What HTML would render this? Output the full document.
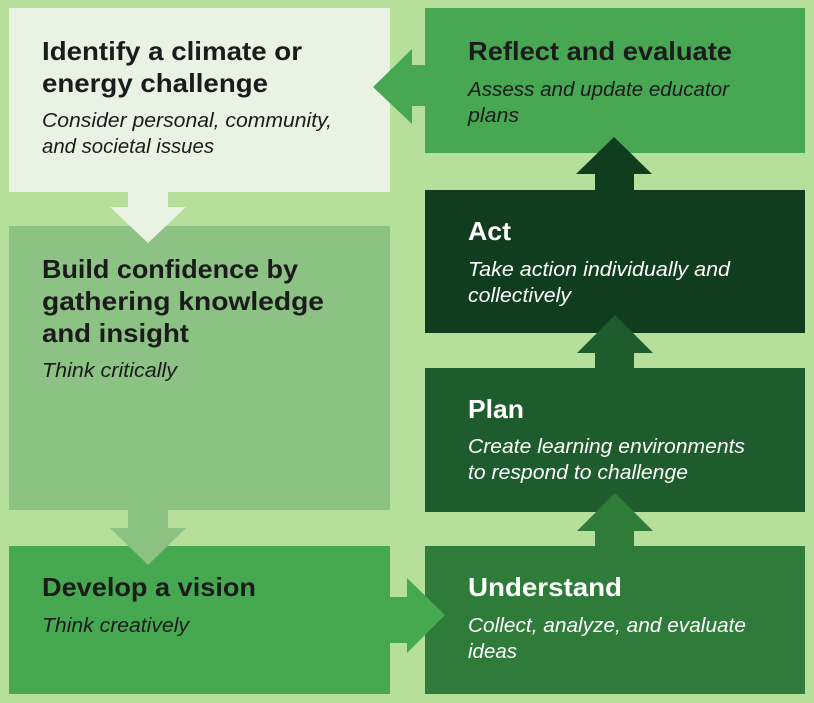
<!DOCTYPE html>
<html><head><meta charset="utf-8"><style>
html,body{margin:0;padding:0;background:#b6df9b;}
svg{display:block}
.t{font-family:"Liberation Sans",sans-serif;font-weight:bold;font-size:26px}
.s{font-family:"Liberation Sans",sans-serif;font-style:italic;font-size:20px}
</style></head><body>
<svg width="814" height="703" viewBox="0 0 814 703" xmlns="http://www.w3.org/2000/svg">
<rect width="814" height="703" fill="#b6df9b"/>
<rect x="9" y="8" width="381" height="184" fill="#eaf2e4"/>
<rect x="9" y="226" width="381" height="284" fill="#8cc283"/>
<rect x="9" y="546" width="381" height="148" fill="#46a851"/>
<rect x="425" y="8" width="380" height="145" fill="#47a753"/>
<rect x="425" y="190" width="380" height="143" fill="#103d1e"/>
<rect x="425" y="368" width="380" height="144" fill="#1e5c2d"/>
<rect x="425" y="546" width="380" height="148" fill="#2f7c3a"/>
<polygon points="128,192 168,192 168,207 186,207 148,243 110,207 128,207" fill="#eaf2e4"/>
<polygon points="128,510 168,510 168,528 186,528 148,565 110,528 128,528" fill="#8cc283"/>
<polygon points="390,597 407,597 407,578 445,615 407,653 407,643 390,643" fill="#46a851"/>
<polygon points="425,65 412,65 412,49 373,87 412,124 412,106 425,106" fill="#47a753"/>
<polygon points="595,190 595,174 576,174 614,137 652,174 634,174 634,190" fill="#103d1e"/>
<polygon points="595,368 595,353 577,353 615,315 653,353 634,353 634,368" fill="#1e5c2d"/>
<polygon points="595,546 595,531 577,531 615,493 653,531 634,531 634,546" fill="#2f7c3a"/>
<g fill="#1b1b1b">
<text class="t" x="42" y="60" textLength="260" lengthAdjust="spacingAndGlyphs">Identify a climate or</text>
<text class="t" x="42" y="92" textLength="226" lengthAdjust="spacingAndGlyphs">energy challenge</text>
<text class="s" x="42" y="127" textLength="290" lengthAdjust="spacingAndGlyphs">Consider personal, community,</text>
<text class="s" x="42" y="153" textLength="172" lengthAdjust="spacingAndGlyphs">and societal issues</text>
<text class="t" x="42" y="278" textLength="256" lengthAdjust="spacingAndGlyphs">Build confidence by</text>
<text class="t" x="42" y="310" textLength="282" lengthAdjust="spacingAndGlyphs">gathering knowledge</text>
<text class="t" x="42" y="342" textLength="147" lengthAdjust="spacingAndGlyphs">and insight</text>
<text class="s" x="42" y="377" textLength="135" lengthAdjust="spacingAndGlyphs">Think critically</text>
<text class="t" x="42" y="596" textLength="214" lengthAdjust="spacingAndGlyphs">Develop a vision</text>
<text class="s" x="42" y="632" textLength="147" lengthAdjust="spacingAndGlyphs">Think creatively</text>
<text class="t" x="468" y="60" textLength="264" lengthAdjust="spacingAndGlyphs">Reflect and evaluate</text>
<text class="s" x="468" y="96" textLength="261" lengthAdjust="spacingAndGlyphs">Assess and update educator</text>
<text class="s" x="468" y="122" textLength="51" lengthAdjust="spacingAndGlyphs">plans</text>
</g>
<g fill="#ffffff">
<text class="t" x="468" y="240" textLength="43" lengthAdjust="spacingAndGlyphs">Act</text>
<text class="s" x="468" y="276" textLength="262" lengthAdjust="spacingAndGlyphs">Take action individually and</text>
<text class="s" x="468" y="302" textLength="103" lengthAdjust="spacingAndGlyphs">collectively</text>
<text class="t" x="468" y="418" textLength="56" lengthAdjust="spacingAndGlyphs">Plan</text>
<text class="s" x="468" y="453" textLength="277" lengthAdjust="spacingAndGlyphs">Create learning environments</text>
<text class="s" x="468" y="479" textLength="220" lengthAdjust="spacingAndGlyphs">to respond to challenge</text>
<text class="t" x="468" y="596" textLength="154" lengthAdjust="spacingAndGlyphs">Understand</text>
<text class="s" x="468" y="632" textLength="278" lengthAdjust="spacingAndGlyphs">Collect, analyze, and evaluate</text>
<text class="s" x="468" y="658" textLength="49" lengthAdjust="spacingAndGlyphs">ideas</text>
</g>
</svg>
</body></html>
